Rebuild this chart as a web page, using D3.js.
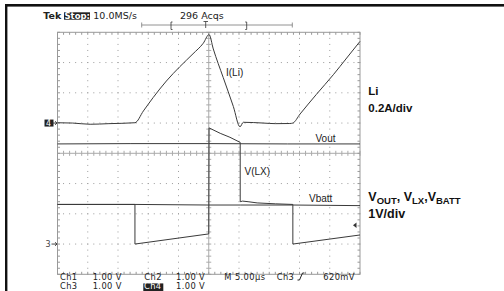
<!DOCTYPE html>
<html><head><meta charset="utf-8">
<script src="https://cdn.jsdelivr.net/npm/d3@7"></script>
<style>
body{margin:0;background:#fff;}
svg{font-family:"DejaVu Sans",sans-serif;}
</style></head><body>
<svg id="scope" width="504" height="291"></svg>
<script>
// scope settings: 5us/div, ch3 (voltages) 1V/div, ch4 (inductor current) 0.2A/div
const timeDomain = [0, 50];
const divDomain = [-4, 4];
const ch3Ground = -3;
const ch4Ground = 1;
const voltsPerDiv = 1;
const ampsPerDiv = 0.2;
const trigLevel = 0.62;

// [time us, amps]
const iLi = [[0,0.002],[2.5,0],[5.4,-0.008],[8.5,-0.004],[12.8,0.002],[14.2,0.08],[15.8,0.168],
	[18.0,0.278],[20.2,0.372],[22.4,0.458],[24.1,0.528],[25.05,0.585],[25.75,0.49],[27.4,0.30],
	[29.06,0.11],[30.17,-0.025],[30.7,0.005],[34,0.0],[36,-0.004],[38.4,-0.003],[38.9,0.0],
	[40.1,0.06],[42.8,0.19],[45.6,0.32],[47.8,0.43],[50,0.54]];
// [time us, volts]
const vLx = [[0,1.31],[12.8,1.31],[12.8,0.0],[25.0,0.335],[25.05,3.84],[26.9,3.66],[28.5,3.53],
	[30.2,3.36],[30.2,1.40],[30.6,1.42],[31.5,1.40],[33,1.36],[36,1.33],[38.9,1.31],[38.9,0.0],[50,0.30]];
const vOut = [[0,3.31],[12,3.32],[25,3.32],[38,3.31],[50,3.31]];
const vBatt = [[0,1.31],[12.8,1.31],[25,1.29],[30.2,1.29],[38.9,1.29],[50,1.27]];

const headerText = ["Tek", "Stop:", "10.0MS/s", "296 Acqs"];
const readoutRow1 = ["Ch1", "1.00 V", "Ch2", "1.00 V", "M 5.00\u00b5s", "Ch3", "620mV"];
const readoutRow2 = ["Ch3", "1.00 V", "Ch4", "1.00 V"];
const traceNames = ["I(Li)", "Vout", "V(LX)", "Vbatt"];

const svg = d3.select("#scope");
const x = d3.scaleLinear().domain(timeDomain).range([57.5, 360]);
const y = d3.scaleLinear().domain(divDomain).range([274.3, 32.3]);
const yV = v => y(ch3Ground + v / voltsPerDiv);
const yI = a => y(ch4Ground + a / ampsPerDiv);
const sans = "'Liberation Sans', Arial, sans-serif";

// outer frame (top + left)
svg.append("rect").attr("x", 5).attr("y", 4).attr("width", 499).attr("height", 2.6).attr("fill", "#111");
svg.append("rect").attr("x", 5).attr("y", 4).attr("width", 2.4).attr("height", 287).attr("fill", "#111");

// graticule
const grat = svg.append("g");
const minorT = d3.range(0, 50.001, 1);
const minorD = d3.range(-4, 4.001, 0.2);
const majorT = d3.range(5, 50, 5).filter(t => t != 25);
const majorD = d3.range(-3, 4, 1).filter(d => d != 0);
const gridCol = "#9c9c9c";

majorT.forEach(t => {
	grat.selectAll(null).data(minorD).join("rect")
		.attr("x", x(t) - 0.5).attr("y", d => y(d) - 0.5).attr("width", 1).attr("height", 1).attr("fill", gridCol);
});
majorD.forEach(d => {
	grat.selectAll(null).data(minorT).join("rect")
		.attr("x", t => x(t) - 0.5).attr("y", y(d) - 0.5).attr("width", 1).attr("height", 1).attr("fill", gridCol);
});

// centre axes with ticks
grat.append("line").attr("x1", x(25)).attr("x2", x(25)).attr("y1", y(4)).attr("y2", y(-4)).attr("stroke", "#aaa");
grat.append("line").attr("x1", x(0)).attr("x2", x(50)).attr("y1", y(0)).attr("y2", y(0)).attr("stroke", "#aaa");
grat.selectAll(null).data(minorD).join("line")
	.attr("x1", x(25) - 2.5).attr("x2", x(25) + 2.5).attr("y1", d => y(d)).attr("y2", d => y(d)).attr("stroke", "#aaa");
grat.selectAll(null).data(minorT).join("line")
	.attr("x1", t => x(t)).attr("x2", t => x(t)).attr("y1", y(0) - 2.5).attr("y2", y(0) + 2.5).attr("stroke", "#aaa");

// border with inward ticks
grat.append("rect").attr("x", x(0)).attr("y", y(4)).attr("width", x(50) - x(0)).attr("height", y(-4) - y(4))
	.attr("fill", "none").attr("stroke", "#999");
grat.selectAll(null).data(minorT).join("path")
	.attr("d", t => `M${x(t)},${y(4)}v2.5M${x(t)},${y(-4)}v-2.5`).attr("stroke", "#999");
grat.selectAll(null).data(minorD).join("path")
	.attr("d", d => `M${x(0)},${y(d)}h2.5M${x(50)},${y(d)}h-2.5`).attr("stroke", "#999");

// traces
const traceCol = "#3a3a3a";
const lineV = d3.line().x(d => x(d[0])).y(d => yV(d[1]));
const lineI = d3.line().x(d => x(d[0])).y(d => yI(d[1])).curve(d3.curveMonotoneX);
[vOut, vBatt, vLx].forEach(s => {
	svg.append("path").attr("d", lineV(s)).attr("fill", "none").attr("stroke", traceCol).attr("stroke-width", 1);
});
svg.append("path").attr("d", lineI(iLi)).attr("fill", "none").attr("stroke", traceCol).attr("stroke-width", 1);

// trace labels
const lab = svg.append("g").attr("font-size", 10).attr("fill", "#222").style("font-family", sans);
lab.append("text").attr("x", 226).attr("y", 76).text(traceNames[0]);
lab.append("text").attr("x", 315.5).attr("y", 141.5).text(traceNames[1]);
lab.append("text").attr("x", 244.5).attr("y", 175).text(traceNames[2]);
lab.append("text").attr("x", 309).attr("y", 202).text(traceNames[3]);

// ground markers
svg.append("rect").attr("x", 44.5).attr("y", y(ch4Ground) - 3.5).attr("width", 9).attr("height", 7).attr("fill", "#222");
svg.append("text").attr("x", 46).attr("y", y(ch4Ground) + 3).attr("font-size", 8).attr("fill", "#fff").text("4");
svg.append("text").attr("x", 45.5).attr("y", y(ch3Ground) + 3).attr("font-size", 8).attr("fill", "#444").text("3");
[ch4Ground, ch3Ground].forEach(gd => {
	svg.append("path").attr("d", `M${x(0) - 6},${y(gd)}h5.5M${x(0) - 2.5},${y(gd) - 1.8}l2,1.8l-2,1.8`)
		.attr("fill", "none").attr("stroke", "#333").attr("stroke-width", 0.9);
});

// trigger level marker
svg.append("path").attr("d", `M${x(50) - 7},${yV(trigLevel)}l3.5,-2.8v5.6z`).attr("fill", "#333");

// header
const hdr = svg.append("g").attr("font-size", 9.5).attr("fill", "#222");
hdr.append("text").attr("x", 43.3).attr("y", 18.5).attr("font-weight", "bold").text(headerText[0]);
hdr.append("rect").attr("x", 64).attr("y", 12.3).attr("width", 26).attr("height", 7.4).attr("fill", "#222");
hdr.append("text").attr("x", 64.5).attr("y", 18.8).attr("fill", "#fff").attr("font-weight", "bold").attr("font-size", 8.5).text(headerText[1]);
hdr.append("text").attr("x", 93.3).attr("y", 18.5).text(headerText[2]);
hdr.append("text").attr("x", 180).attr("y", 18.5).text(headerText[3]);

// record / trigger position bar
const bar = svg.append("g").attr("stroke", "#777").attr("fill", "none").attr("stroke-width", 0.8);
bar.append("path").attr("d", "M141.7,25H292.3M141.7,22.5v5M292.3,22.5v5");
bar.append("path").attr("d", "M172.5,22h-1.5v7.5h1.5M245.2,22h1.5v7.5h-1.5").attr("stroke", "#333");
bar.append("path").attr("d", "M203.5,21.5h4.5M205.7,21.5v6.5").attr("stroke", "#333");

// readout
const ro = svg.append("g").attr("font-size", 8.3).attr("fill", "#222").attr("letter-spacing", 0.4);
const row1X = [60, 92.7, 144.3, 176, 224.3, 276.7, 323.3];
readoutRow1.forEach((s, i) => ro.append("text").attr("x", row1X[i]).attr("y", 280.3).text(s));
const row2X = [60, 92.7, 144, 176];
ro.append("rect").attr("x", 143.3).attr("y", 283.4).attr("width", 20).attr("height", 7.6).attr("fill", "#222");
readoutRow2.forEach((s, i) => ro.append("text").attr("x", row2X[i]).attr("y", 289.3)
	.attr("fill", i == 2 ? "#fff" : "#222").text(s));
// rising edge slope symbol
ro.append("path").attr("d", "M297.5,280h2l3,-7h2").attr("stroke", "#222").attr("fill", "none").attr("stroke-width", 1);

// right side scale annotations
const ann = svg.append("g").attr("fill", "#111").attr("font-weight", "bold").style("font-family", sans);
ann.append("text").attr("x", 368.3).attr("y", 95).attr("font-size", 11.5).text("Li");
ann.append("text").attr("x", 368.3).attr("y", 112).attr("font-size", 11.5).text("0.2A/div");
const vt = ann.append("text").attr("x", 368.3).attr("y", 201).attr("font-size", 12.5);
let lastSub = false;
[["V", ""], ["OUT", "sub"], [", ", ""], ["V", ""], ["LX", "sub"], [",", ""], ["V", ""], ["BATT", "sub"]].forEach(p => {
	const ts = vt.append("tspan").text(p[0]);
	const isSub = p[1] == "sub";
	if (isSub) ts.attr("font-size", 9.5).attr("dy", 3.3);
	else if (lastSub) ts.attr("dy", -3.3);
	lastSub = isSub;
});
ann.append("text").attr("x", 368.3).attr("y", 217.5).attr("font-size", 12.5).text("1V/div");
</script>
</body></html>
